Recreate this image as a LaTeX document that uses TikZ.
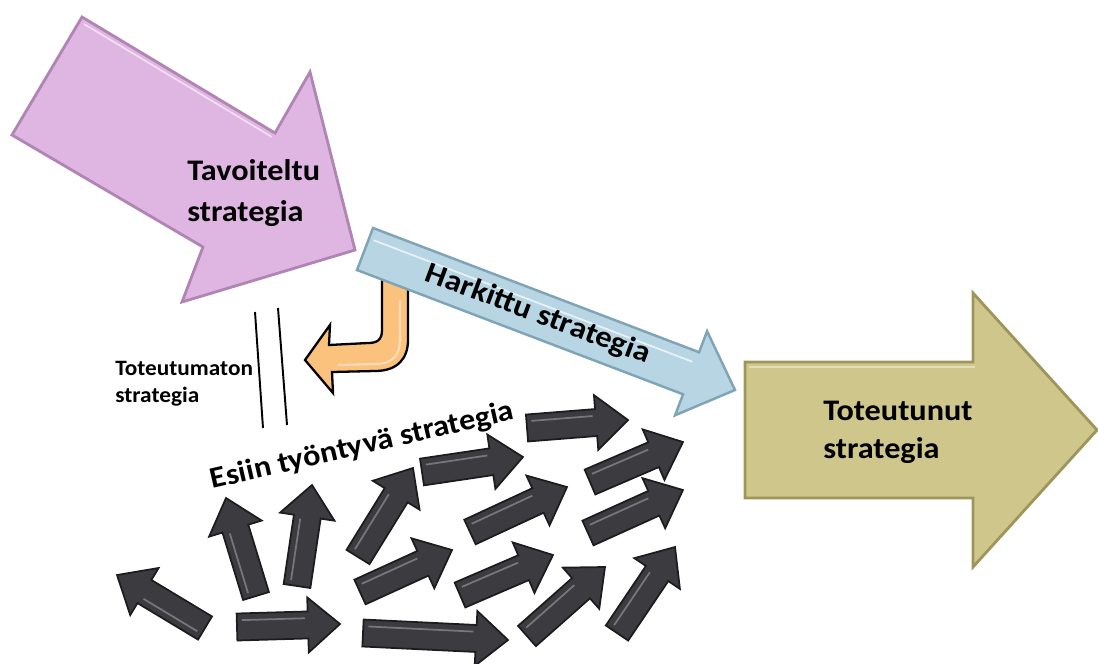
\documentclass[tikz,border=0pt]{standalone}
\usepackage{graphicx}
\usepackage{fontspec}
\setmainfont{Carlito}
\definecolor{pinkfill}{HTML}{DFB5E2}
\definecolor{pinkedge}{HTML}{B084B3}
\definecolor{bluefill}{HTML}{B7D5E3}
\definecolor{blueedge}{HTML}{7FA4B6}
\definecolor{olivefill}{HTML}{CFC68C}
\definecolor{oliveedge}{HTML}{9E955A}
\definecolor{orangefill}{HTML}{FBC27D}
\definecolor{darkfill}{HTML}{3C3B40}
\definecolor{darkedge}{HTML}{1C1C1F}
\definecolor{darkhi}{HTML}{76767C}

% block arrow: style, tail x, tail y, tip x, tip y, shaft width, head width, head length
\newcommand\blockarrow[8]{%
  \pgfmathsetmacro\baAng{atan2(-(#5-#3),#4-#2)}%
  \pgfmathsetmacro\baLen{veclen(#4-#2,#5-#3)}%
  \begin{scope}[shift={(#2,#3)},rotate=\baAng]
    \filldraw[#1] (0,-#6/2) -- (\baLen-#8,-#6/2) -- (\baLen-#8,-#7/2) -- (\baLen,0)
      -- (\baLen-#8,#7/2) -- (\baLen-#8,#6/2) -- (0,#6/2) -- cycle;
    \draw[#1 hl] (5,-#6/4) -- (\baLen-#8-3,-#6/4);
  \end{scope}}
% wider lettering
\newcommand\widetext[2]{\scalebox{#1}[1]{#2}}

\begin{document}
\begin{tikzpicture}[x=0.02cm,y=-0.02cm,
  pinkarr/.style={fill=pinkfill,draw=pinkedge,line width=1.6pt,line join=miter},
  olivearr/.style={fill=olivefill,draw=oliveedge,line width=1.6pt,line join=miter},
  bluearr/.style={fill=bluefill,draw=blueedge,line width=1.4pt,line join=miter},
  bluearr hl/.style={draw=white!70!bluefill,line width=1pt},
  darkarr/.style={fill=darkfill,draw=darkedge,line width=1pt,line join=miter},
  darkarr hl/.style={draw=darkhi,line width=1pt},
  orangearr/.style={fill=orangefill,draw=black,line width=1.3pt,line join=miter},
  lbl/.style={inner sep=0pt,text=black},
  bigfont/.style={font=\fontsize{17}{20}\selectfont\bfseries},
  smallfont/.style={font=\fontsize{12.5}{15}\selectfont\bfseries},
  gap/.style={line width=1.1pt,draw=black}]
\useasboundingbox (0,0) rectangle (1098,663);

% intended strategy
\filldraw[pinkarr] (82,17) -- (275,133) -- (310,72) -- (355,250) -- (182,302)
  -- (203,247) -- (12,135) -- cycle;
\draw[white!55!pinkfill,line width=1pt] (84,24) -- (272,137);

% unrealized strategy: the turning arrow
\filldraw[orangearr] (382,265) -- (382,330) .. controls (382,340) and (377,343) .. (368,343)
  -- (329,345) -- (330,325) -- (305,360) -- (333,393) -- (332,372) -- (375,371)
  .. controls (398,371) and (408,358) .. (408,340) -- (408,265) -- cycle;
\draw[white!45!orangefill,line width=1.2pt] (400,300) -- (400,340)
  .. controls (400,355) and (392,364) .. (376,364) -- (338,365);

% deliberate strategy
\blockarrow{bluearr}{365}{249}{735}{390}{45}{90}{47}

% realized strategy
\filldraw[olivearr] (745,362) -- (973,362) -- (973,293) -- (1097,430) -- (973,567)
  -- (973,498) -- (745,498) -- cycle;
\draw[white!40!olivefill,line width=1pt] (749,367) -- (975,367);

% the separating double line
\draw[gap] (255,312) -- (263,428);
\draw[gap] (278,308) -- (287,425);

% emergent strategy: many small arrows
\blockarrow{darkarr}{205}{628}{117}{575}{27}{55}{32}
\blockarrow{darkarr}{256}{596}{226}{498}{27}{55}{32}
\blockarrow{darkarr}{297}{586}{312}{485}{27}{55}{32}
\blockarrow{darkarr}{358}{557}{413}{468}{27}{55}{32}
\blockarrow{darkarr}{237}{627}{340}{624}{27}{55}{32}
\blockarrow{darkarr}{363}{633}{508}{640}{27}{55}{32}
\blockarrow{darkarr}{422}{472}{523}{457}{27}{55}{32}
\blockarrow{darkarr}{360}{592}{452}{550}{27}{55}{32}
\blockarrow{darkarr}{527}{428}{628}{420}{27}{55}{32}
\blockarrow{darkarr}{590}{482}{683}{442}{27}{55}{32}
\blockarrow{darkarr}{470}{532}{567}{487}{27}{55}{32}
\blockarrow{darkarr}{588}{533}{683}{490}{27}{55}{32}
\blockarrow{darkarr}{460}{595}{553}{555}{27}{55}{32}
\blockarrow{darkarr}{527}{636}{605}{567}{27}{55}{32}
\blockarrow{darkarr}{617}{633}{675}{547}{27}{55}{32}

% labels
\node[lbl,bigfont,anchor=base west] (tav1) at (187,180) {\widetext{1.08}{Tavoiteltu}};
\node[lbl,bigfont,anchor=base west] (tav2) at (187,221) {\widetext{1.08}{strategia}};
\node[lbl,bigfont,anchor=base west] (tot1) at (823,420) {\widetext{1.08}{Toteutunut}};
\node[lbl,bigfont,anchor=base west] (tot2) at (823,458) {\widetext{1.08}{strategia}};
\node[lbl,smallfont,anchor=base west] (tum1) at (115,375) {\widetext{1.06}{Toteutumaton}};
\node[lbl,smallfont,anchor=base west] (tum2) at (115,402) {\widetext{1.06}{strategia}};
\node[lbl,bigfont,anchor=base,rotate=-20.5] (hark) at (535,322) {\widetext{1.10}{Harkittu strategia}};
\node[lbl,bigfont,anchor=base,rotate=12.9] (esiin) at (364,454) {\widetext{1.08}{Esiin työntyvä strategia}};
\end{tikzpicture}
\end{document}
